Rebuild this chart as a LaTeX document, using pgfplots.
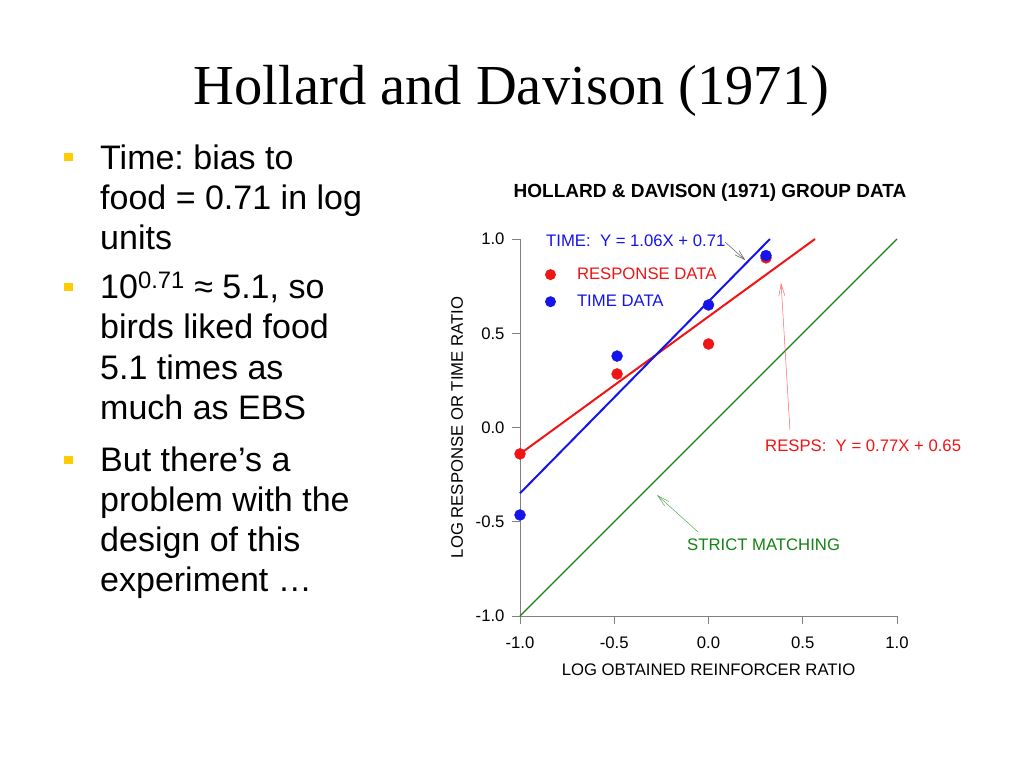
\documentclass[border=0pt]{standalone}
\usepackage{fontspec}
\setmainfont{Liberation Sans}
\newfontfamily\titlefont{Liberation Serif}
\usepackage{pgfplots}
\usepackage{pgfplotstable}
\pgfplotsset{compat=1.18}
\usetikzlibrary{arrows.meta}
\definecolor{pred}{RGB}{240,20,20}
\definecolor{pblue}{RGB}{20,20,235}
\definecolor{pgreen}{RGB}{20,130,20}
\definecolor{bulletyellow}{RGB}{255,204,0}
\definecolor{axisgray}{RGB}{128,128,128}
\newcommand\chartfont{\fontsize{16.7}{20}\selectfont}
\frenchspacing

\pgfplotstableread{
x y
-1.0 -0.14
-0.485 0.284
0.0 0.443
0.305 0.90
}\respdata
\pgfplotstableread{
x y
-1.0 -0.464
-0.485 0.379
0.0 0.65
0.305 0.912
}\timedata

\begin{document}
\frenchspacing
\begin{tikzpicture}
\useasboundingbox[fill=white] (0pt,0pt) rectangle (1024pt,-768pt);
% slide title
\node[anchor=base, inner sep=0pt, font=\titlefont\fontsize{56.5}{64}\selectfont] at (511.5pt,-104pt) {Hollard and Davison (1971)};
% bullets
\fill[bulletyellow] (64.25pt,-152.75pt) rectangle ++(8.5pt,-8.5pt);
\fill[bulletyellow] (64.25pt,-282.75pt) rectangle ++(8.5pt,-8.5pt);
\fill[bulletyellow] (64.25pt,-455.75pt) rectangle ++(8.5pt,-8.5pt);
\node[anchor=base west, align=left, inner sep=0pt, font=\fontsize{34}{40}\selectfont] at (100pt,-249pt) {Time: bias to\\food = 0.71 in log\\units};
\node[anchor=base west, align=left, inner sep=0pt, font=\fontsize{34}{40.5}\selectfont] at (100pt,-419.5pt) {10\textsuperscript{0.71} ≈ 5.1, so\\birds liked food\\5.1 times as\\much as EBS};
\node[anchor=base west, align=left, inner sep=0pt, font=\fontsize{34}{40}\selectfont] at (100pt,-591pt) {But there’s a\\problem with the\\design of this\\experiment …};
% chart title
\node[anchor=base, inner sep=0pt, font=\bfseries\fontsize{19}{22}\selectfont] at (710pt,-197pt) {HOLLARD \& DAVISON (1971) GROUP DATA};
\begin{axis}[
  at={(520pt,-616pt)}, anchor=south west,
  scale only axis, width=377pt, height=377pt,
  xmin=-1, xmax=1, ymin=-1, ymax=1,
  axis lines*=left,
  axis line style={axisgray, line width=1pt},
  tick align=outside,
  major tick length=8pt,
  every tick/.style={axisgray, line width=1pt},
  xtick={-1,-0.5,0,0.5,1}, xticklabels={-1.0,-0.5,0.0,0.5,1.0},
  ytick={-1,-0.5,0,0.5,1}, yticklabels={-1.0,-0.5,0.0,0.5,1.0},
  ticklabel style={font=\chartfont, text=black},
  xticklabel style={yshift=-9pt},
  yticklabel style={xshift=-4pt},
  xlabel={LOG OBTAINED REINFORCER RATIO},
  ylabel={LOG RESPONSE OR TIME RATIO},
  label style={font=\chartfont},
  xlabel style={at={(axis description cs:0.5,-0.1565)}, anchor=base},
  ylabel style={at={(axis description cs:-0.167,0.5)}, anchor=center},
  clip=false,
  legend style={at={(0.0663,0.923)}, anchor=north west, draw=none, fill=none,
    inner sep=0pt, outer sep=0pt, row sep=14pt, column sep=21pt,
    font=\chartfont, nodes={inner sep=0pt, outer sep=0pt}},
  legend cell align=left,
  legend image code/.code={\fill[#1, draw=none] (0pt,0pt) circle (5.5pt);},
]
\addplot[pgreen, line width=1.3pt, forget plot] coordinates {(-1,-1) (1,1)};
\addplot[pred, line width=2pt, forget plot] coordinates {(-1,-0.14) (0.565,1.0)};
\addplot[pblue, line width=2pt, forget plot] coordinates {(-1,-0.349) (0.326,1.0)};
\addplot[only marks, mark=*, mark size=5.5pt, color=pred, mark options={draw=pred, fill=pred}] table {\respdata};
\addlegendentry{\textcolor{pred}{RESPONSE DATA}}
\addplot[only marks, mark=*, mark size=5.5pt, color=pblue, mark options={draw=pblue, fill=pblue}] table {\timedata};
\addlegendentry{\textcolor{pblue}{TIME DATA}}
% annotations
\node[anchor=base west, inner sep=0pt, text=pblue, font=\chartfont] at (axis cs:-0.862,0.9576) {TIME:\ \ Y = 1.06X + 0.71};
\draw[-{Straight Barb[length=10pt,width=6pt]}, gray!70!black, line width=0.5pt] (axis cs:0.0875,0.984) -- (axis cs:0.194,0.889);
\draw[-{Straight Barb[length=12pt,width=6pt]}, red!60, line width=0.5pt] (axis cs:0.432,-0.013) -- (axis cs:0.385,0.767);
\node[anchor=base west, inner sep=0pt, text=pred, font=\chartfont] at (axis cs:0.2997,-0.128) {RESPS:\ \ Y = 0.77X + 0.65};
\draw[-{Straight Barb[length=12pt,width=6pt]}, pgreen!70, line width=0.5pt] (axis cs:-0.0557,-0.554) -- (axis cs:-0.273,-0.358);
\node[anchor=base west, inner sep=0pt, text=pgreen, font=\chartfont] at (axis cs:-0.114,-0.650) {STRICT MATCHING};
\end{axis}
\end{tikzpicture}
\end{document}
